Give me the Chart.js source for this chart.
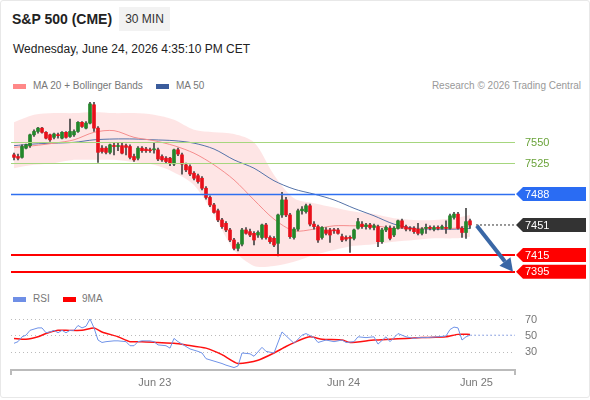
<!DOCTYPE html>
<html>
<head>
<meta charset="utf-8">
<script src="https://cdn.jsdelivr.net/npm/chart.js@4.4.0/dist/chart.umd.min.js"></script>
<style>
  html, body { margin: 0; padding: 0; background: #fff; }
  body { width: 590px; height: 400px; position: relative; overflow: hidden; font-family: "Liberation Sans", Arial, sans-serif; }
  .card { position: absolute; left: 0; top: 0; width: 588px; height: 396px; border: 1px solid #e8e8e8; border-radius: 3px; }
  .title { position: absolute; left: 12px; top: 11px; font-size: 14px; font-weight: bold; color: #222; }
  .badge { position: absolute; left: 119px; top: 7px; width: 51px; height: 24px; line-height: 24px; text-align: center; background: #f2f2f2; font-size: 12px; color: #333; }
  .date { position: absolute; left: 13px; top: 42px; font-size: 12px; color: #222; }
  .lg { position: absolute; font-size: 10px; color: #777; white-space: nowrap; }
  .sw { position: absolute; width: 13px; height: 5px; }
  canvas { position: absolute; left: 0; }
</style>
</head>
<body>
<div class="card"></div>
<div class="title">S&amp;P 500 (CME)</div>
<div class="badge">30 MIN</div>
<div class="date">Wednesday, June 24, 2026 4:35:10 PM CET</div>

<div class="sw" style="left:13px; top:84px; background:#f88;"></div>
<div class="lg" style="left:33px; top:80px;">MA 20 + Bollinger Bands</div>
<div class="sw" style="left:156px; top:84px; background:#3b5c9c;"></div>
<div class="lg" style="left:176px; top:80px;">MA 50</div>
<div class="lg" style="right:9px; top:80px; color:#999;">Research © 2026 Trading Central</div>

<div class="sw" style="left:13px; top:297px; background:#6f8fe6;"></div>
<div class="lg" style="left:33px; top:293px;">RSI</div>
<div class="sw" style="left:63px; top:297px; background:#f00;"></div>
<div class="lg" style="left:82px; top:293px;">9MA</div>

<canvas id="main" width="590" height="195" style="top:95px;"></canvas>
<canvas id="rsi" width="590" height="110" style="top:290px;"></canvas>

<script>
// 30 min candles, oldest first
var opens = [7535, 7533, 7532, 7543, 7546, 7559, 7563, 7567, 7562, 7559,
  7556, 7559, 7555, 7562, 7557, 7559, 7563, 7574, 7567, 7573,
  7595, 7567, 7543, 7543, 7538, 7546, 7545, 7546, 7546, 7545,
  7533, 7531, 7543, 7542, 7541, 7541, 7541, 7533, 7531, 7531,
  7524, 7541, 7535, 7523, 7521, 7513, 7510, 7507, 7495, 7484,
  7475, 7468, 7457, 7453, 7445, 7433, 7423, 7428, 7445, 7443,
  7441, 7439, 7436, 7451, 7436, 7435, 7429, 7463, 7481, 7463,
  7436, 7446, 7468, 7467, 7474, 7452, 7449, 7436, 7445, 7445,
  7445, 7445, 7437, 7436, 7436, 7435, 7447, 7452, 7449, 7451,
  7448, 7449, 7431, 7445, 7447, 7439, 7447, 7456, 7449, 7447,
  7447, 7446, 7441, 7447, 7448, 7446, 7448, 7447, 7448, 7447,
  7460, 7464, 7447, 7442, 7456];
var highs = [7537, 7536, 7547, 7548, 7560, 7565, 7568, 7568, 7563, 7560,
  7561, 7561, 7563, 7563, 7578, 7565, 7575, 7575, 7575, 7598,
  7598, 7569, 7546, 7545, 7548, 7549, 7550, 7549, 7548, 7547,
  7536, 7545, 7545, 7544, 7543, 7549, 7543, 7535, 7533, 7532,
  7542, 7543, 7537, 7525, 7523, 7515, 7512, 7509, 7497, 7486,
  7477, 7470, 7459, 7455, 7447, 7435, 7430, 7447, 7448, 7446,
  7443, 7444, 7452, 7453, 7438, 7437, 7464, 7490, 7484, 7465,
  7448, 7470, 7473, 7476, 7476, 7455, 7451, 7449, 7448, 7447,
  7447, 7447, 7440, 7438, 7438, 7446, 7459, 7455, 7453, 7453,
  7452, 7451, 7447, 7450, 7450, 7449, 7457, 7458, 7451, 7449,
  7449, 7453, 7448, 7452, 7450, 7450, 7450, 7451, 7456, 7464,
  7466, 7466, 7449, 7471, 7458];
var lows = [7529, 7529, 7531, 7542, 7544, 7557, 7561, 7561, 7554, 7551,
  7554, 7555, 7554, 7555, 7556, 7557, 7562, 7568, 7566, 7572,
  7563, 7526, 7537, 7536, 7536, 7535, 7540, 7536, 7535, 7530,
  7527, 7529, 7538, 7538, 7538, 7537, 7528, 7527, 7525, 7522,
  7522, 7534, 7512, 7515, 7510, 7505, 7501, 7493, 7482, 7473,
  7465, 7455, 7447, 7443, 7431, 7421, 7420, 7426, 7440, 7437,
  7427, 7436, 7434, 7434, 7429, 7425, 7414, 7460, 7461, 7435,
  7434, 7444, 7464, 7465, 7450, 7446, 7430, 7434, 7439, 7430,
  7441, 7440, 7431, 7432, 7418, 7433, 7446, 7447, 7446, 7446,
  7445, 7425, 7429, 7443, 7433, 7437, 7446, 7447, 7444, 7444,
  7441, 7439, 7439, 7441, 7445, 7444, 7445, 7446, 7441, 7446,
  7458, 7446, 7436, 7435, 7447];
var closes = [7532, 7531, 7545, 7547, 7559, 7563, 7567, 7562, 7555, 7553,
  7560, 7558, 7562, 7556, 7563, 7563, 7574, 7569, 7573, 7596,
  7567, 7538, 7539, 7538, 7547, 7545, 7546, 7537, 7544, 7532,
  7529, 7543, 7540, 7540, 7540, 7542, 7530, 7529, 7527, 7525,
  7541, 7536, 7524, 7517, 7512, 7507, 7503, 7495, 7484, 7475,
  7466, 7457, 7449, 7445, 7433, 7423, 7428, 7445, 7441, 7439,
  7433, 7442, 7451, 7436, 7431, 7427, 7463, 7481, 7463, 7437,
  7446, 7468, 7470, 7474, 7452, 7449, 7433, 7448, 7441, 7439,
  7444, 7441, 7433, 7434, 7435, 7445, 7455, 7449, 7451, 7448,
  7450, 7431, 7445, 7448, 7435, 7447, 7456, 7448, 7446, 7446,
  7443, 7441, 7446, 7448, 7447, 7448, 7447, 7449, 7447, 7462,
  7464, 7447, 7442, 7455, 7451];

// indicator lines, read at every 5th candle
var lineIdx = [0, 5, 10, 15, 20, 25, 30, 35, 40, 45, 50, 55, 60, 65, 70, 75, 80, 85, 90, 95, 100, 105, 110, 114];
var ma20 = [7544, 7546, 7549, 7553, 7562, 7564, 7556, 7552, 7546, 7537, 7523, 7505, 7481, 7458, 7444, 7446, 7450, 7450, 7450, 7447, 7447, 7447, 7447, 7450];
var ma50 = [7546, 7548, 7549, 7550, 7553, 7554, 7554, 7553, 7552, 7549, 7542, 7529, 7519, 7504, 7494, 7488, 7481, 7471, 7462, 7452, 7447, 7446, 7446, 7447];
var bandUpper = [7574, 7583, 7585, 7585, 7586, 7585, 7585, 7583, 7577, 7565, 7562, 7560, 7550, 7511, 7483, 7477, 7472, 7467, 7464, 7459, 7457, 7457, 7459, 7463];
var bandLower = [7519, 7523, 7525, 7529, 7529, 7529, 7526, 7523, 7514, 7499, 7463, 7421, 7402, 7402, 7407, 7415, 7421, 7426, 7428, 7431, 7433, 7435, 7435, 7437];

// key levels
var resistances = [7550, 7525];
var pivot = 7488;
var supports = [7415, 7395];

// RSI and its 9 period average
var rsiIdx = [0, 1, 2, 3, 4, 6, 7, 8, 9, 10, 11, 12, 13, 14, 15, 16, 17, 18, 19, 20,
  21, 22, 23, 25, 26, 28, 29, 30, 31, 32, 34, 35, 36, 38, 39, 40, 41, 43, 44, 46,
  47, 48, 50, 52, 53, 55, 56, 57, 59, 60, 62, 63, 65, 67, 70, 72, 73, 75, 76, 78,
  80, 82, 83, 85, 86, 88, 90, 91, 93, 94, 96, 98, 100, 101, 103, 106, 108, 109, 110, 111,
  112, 113, 114];
var rsi = [41, 43, 49, 51, 57, 60, 60, 54, 55, 57, 54, 57, 54, 57, 57, 63, 60, 62, 71, 60,
  45, 42, 43, 44, 44, 43, 38, 38, 43, 44, 44, 43, 39, 38, 35, 47, 43, 37, 34, 31,
  29, 22, 19, 16, 14, 11, 13, 29, 28, 25, 36, 31, 29, 55, 41, 51, 53, 48, 42, 45,
  43, 45, 42, 43, 49, 48, 49, 40, 49, 43, 53, 49, 47, 48, 48, 49, 50, 58, 61, 60,
  45, 49, 51];
var rsiMaIdx = [0, 3, 6, 8, 11, 13, 17, 20, 22, 26, 29, 32, 36, 40, 43, 48, 52, 56, 61, 65,
  68, 71, 74, 77, 82, 84, 90, 94, 98, 102, 108, 111, 114];
var rsiMa = [47, 46, 49, 53, 57, 57, 57, 60, 55, 49, 43, 43, 42, 41, 39, 35, 27, 16, 20, 29,
  37, 44, 49, 46, 45, 42, 45, 46, 47, 48, 49, 52, 52];
var rsiTicks = [30, 50, 70];

// x axis day labels (candle position)
var dayTicks = [35.2, 82.4, 115.6];
var dayLabels = ["Jun 23", "Jun 24", "Jun 25"];

var X_MIN = -0.75, X_MAX = 125.25;
var FONT = '"Liberation Sans", Arial, sans-serif';
var GREEN = "#23872a", RED = "#e8101a";

Chart.defaults.font.family = FONT;

var last = closes.length - 1;
var lastClose = closes[last];

var pts = function (xs, ys) { return xs.map(function (x, i) { return { x: x, y: ys[i] }; }); };

var bodies = closes.map(function (c, i) { return { x: i, y: [opens[i], c] }; });
var wicks = closes.map(function (c, i) { return { x: i, y: [lows[i], highs[i]] }; });
var bodyColors = closes.map(function (c, i) { return c >= opens[i] ? GREEN : RED; });

function tag(ctx, x, y, w, h, color, text) {
  ctx.fillStyle = color;
  ctx.beginPath();
  ctx.moveTo(x, y);
  ctx.lineTo(x + 7, y - h / 2);
  ctx.lineTo(x + w, y - h / 2);
  ctx.lineTo(x + w, y + h / 2);
  ctx.lineTo(x + 7, y + h / 2);
  ctx.closePath();
  ctx.fill();
  ctx.fillStyle = "#fff";
  ctx.font = "11px " + FONT;
  ctx.textBaseline = "middle";
  ctx.fillText(text, x + 9, y + 0.5);
}

var levelsPlugin = {
  id: "levels",
  afterDatasetsDraw: function (chart) {
    var ctx = chart.ctx, a = chart.chartArea, y = chart.scales.y;
    ctx.save();
    function hline(v, color, width) {
      var py = Math.round(y.getPixelForValue(v)) + (width % 2 ? 0.5 : 0);
      ctx.strokeStyle = color;
      ctx.lineWidth = width;
      ctx.beginPath();
      ctx.moveTo(a.left, py);
      ctx.lineTo(a.right, py);
      ctx.stroke();
    }
    resistances.forEach(function (v) { hline(v, "#a6d67e", 1); });
    hline(pivot, "#2f6ff0", 1.5);
    supports.forEach(function (v) { hline(v, "#ff0000", 2); });
    ctx.restore();
  },
  afterDraw: function (chart) {
    var ctx = chart.ctx, a = chart.chartArea, x = chart.scales.x, y = chart.scales.y;
    ctx.save();
    // right side labels
    ctx.font = "11px " + FONT;
    ctx.textBaseline = "middle";
    ctx.fillStyle = "#6aa33a";
    resistances.forEach(function (v) { ctx.fillText(String(v), a.right + 10, y.getPixelForValue(v) + 0.5); });
    tag(ctx, a.right + 1, y.getPixelForValue(pivot), 70, 14, "#2a6cf3", String(pivot));
    tag(ctx, a.right + 1, y.getPixelForValue(lastClose), 70, 14, "#333333", String(Math.round(lastClose)));
    supports.forEach(function (v) { tag(ctx, a.right + 1, y.getPixelForValue(v), 70, 14, "#ff0000", String(v)); });

    // forecast arrow from last close to the lowest target
    var x0 = x.getPixelForValue(last + 1.7), y0 = y.getPixelForValue(lastClose - 1);
    var x1 = x.getPixelForValue(X_MAX - 0.5), y1 = y.getPixelForValue(supports[1]);
    var ang = Math.atan2(y1 - y0, x1 - x0), head = 13;
    var bx = x1 - head * Math.cos(ang), by = y1 - head * Math.sin(ang);
    ctx.strokeStyle = "#3a67a6";
    ctx.fillStyle = "#3a67a6";
    ctx.lineWidth = 4;
    ctx.lineCap = "butt";
    ctx.beginPath();
    ctx.moveTo(x0, y0);
    ctx.lineTo(bx, by);
    ctx.stroke();
    ctx.beginPath();
    ctx.moveTo(x1, y1);
    ctx.lineTo(bx + 7 * Math.sin(ang), by - 7 * Math.cos(ang));
    ctx.lineTo(bx - 7 * Math.sin(ang), by + 7 * Math.cos(ang));
    ctx.closePath();
    ctx.fill();
    ctx.restore();
  }
};

// price pane
new Chart(document.getElementById("main"), {
  type: "bar",
  data: {
    datasets: [
      { type: "bar", data: bodies, backgroundColor: bodyColors, borderWidth: 0, barThickness: 3, minBarLength: 1, grouped: false, order: 0 },
      { type: "bar", data: wicks, backgroundColor: "#444", borderWidth: 0, barThickness: 1, grouped: false, order: 1 },
      { type: "line", data: pts(lineIdx, ma20), borderColor: "#f58d8d", borderWidth: 1, pointRadius: 0, tension: 0.3, order: 2 },
      { type: "line", data: pts(lineIdx, ma50), borderColor: "#5573a9", borderWidth: 1, pointRadius: 0, tension: 0.3, order: 3 },
      { type: "line", data: pts(lineIdx, bandUpper), borderWidth: 0, pointRadius: 0, tension: 0.3, fill: "+1", backgroundColor: "rgba(248,110,110,0.18)", order: 4 },
      { type: "line", data: pts(lineIdx, bandLower), borderWidth: 0, pointRadius: 0, tension: 0.3, order: 5 },
      { type: "line", data: [{ x: last + 1.5, y: lastClose }, { x: X_MAX, y: lastClose }], borderColor: "#777", borderWidth: 1.5, borderDash: [2, 2], pointRadius: 0, order: 6 }
    ]
  },
  options: {
    responsive: false,
    animation: false,
    events: [],
    layout: { padding: { left: 11, right: 75, top: 0, bottom: 0 } },
    plugins: { legend: { display: false }, tooltip: { enabled: false } },
    scales: {
      x: { type: "linear", min: X_MIN, max: X_MAX, offset: false, display: false },
      y: { min: 7373.1, max: 7606.7, display: false }
    }
  },
  plugins: [levelsPlugin]
});

// RSI pane
new Chart(document.getElementById("rsi"), {
  type: "line",
  data: {
    datasets: [
      { data: pts(rsiIdx, rsi), borderColor: "#7093e8", borderWidth: 1, pointRadius: 0 },
      { data: pts(rsiMaIdx, rsiMa), borderColor: "#ff1010", borderWidth: 1.5, pointRadius: 0, tension: 0.2 },
      { data: [{ x: last, y: rsi[rsi.length - 1] }, { x: X_MAX, y: rsi[rsi.length - 1] }], borderColor: "#9fb4ee", borderWidth: 1, borderDash: [2, 2], pointRadius: 0 }
    ]
  },
  options: {
    responsive: false,
    animation: false,
    events: [],
    layout: { padding: { left: 11, top: 6, right: 0, bottom: 0 } },
    plugins: { legend: { display: false }, tooltip: { enabled: false } },
    scales: {
      x: {
        type: "linear", min: X_MIN, max: X_MAX,
        afterFit: function (s) { s.height = 30; },
        afterBuildTicks: function (s) {
          s.ticks = [X_MIN].concat(dayTicks, [X_MAX]).map(function (v) { return { value: v }; });
        },
        ticks: {
          autoSkip: false, maxRotation: 0, padding: 1, color: "#777", font: { size: 11 },
          callback: function (v, i) { return i === 0 || i > dayLabels.length ? "" : dayLabels[i - 1]; }
        },
        grid: {
          drawOnChartArea: false, tickLength: 5, lineWidth: 2,
          color: function (c) { return c.index === 0 || c.index === dayLabels.length + 1 ? "#bbb" : "rgba(0,0,0,0)"; }
        },
        border: { color: "#bbb", width: 2 }
      },
      y: {
        position: "right", min: 8, max: 99.4,
        afterFit: function (s) { s.width = 75; s.paddingTop = 0; s.paddingBottom = 0; },
        afterBuildTicks: function (s) { s.ticks = rsiTicks.map(function (v) { return { value: v }; }); },
        ticks: { padding: 10, color: "#777", font: { size: 11 } },
        grid: { drawTicks: false, color: "#bbb" },
        border: { display: false, dash: [1, 3] }
      }
    }
  }
});
</script>
</body>
</html>
